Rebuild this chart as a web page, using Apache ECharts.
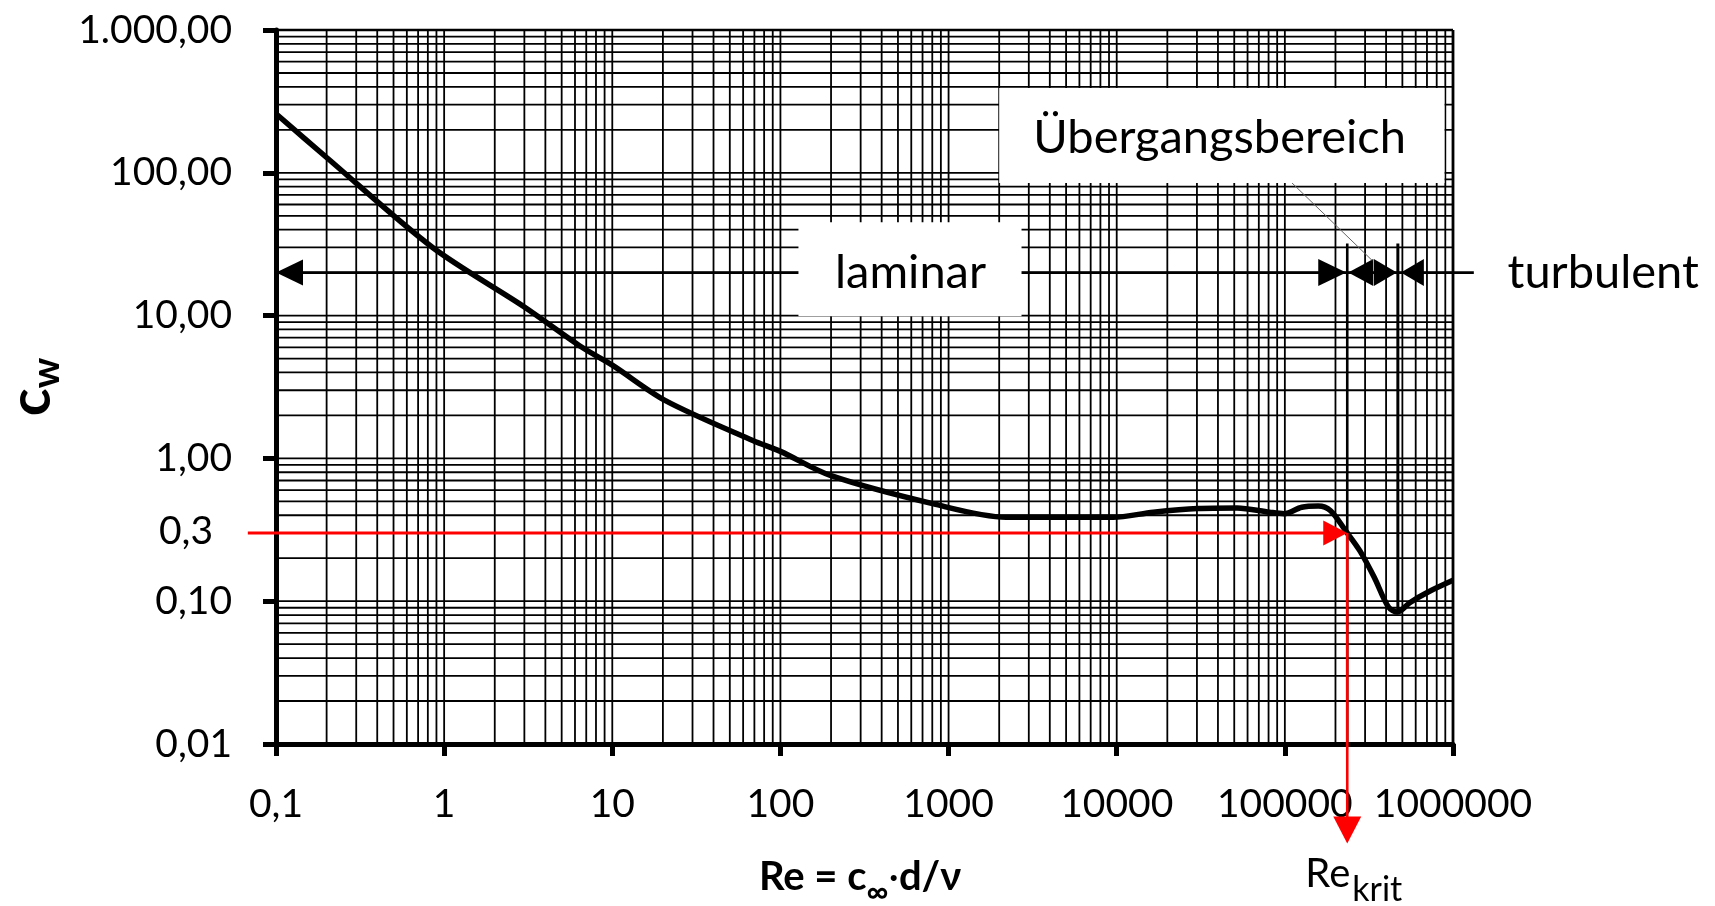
<!DOCTYPE html>
<html><head><meta charset="utf-8">
<script src="https://cdn.jsdelivr.net/npm/echarts@6/dist/echarts.min.js"></script>
<style>html,body{margin:0;padding:0;background:#fff}#c{width:1715px;height:906px}</style>
</head><body><div id="c"></div>
<script>
// ---- data ----
const reynolds  = [0.1, 0.2, 0.85, 3, 6.6, 10, 20.7, 69, 100, 198, 815, 2200, 9500, 16500, 30200, 52000, 81000, 99000, 126000, 158000, 187000, 229000, 279000, 340000, 413000, 468000, 556000, 712000, 1000000];
const dragCoeff = [259, 128, 30.1, 11.5, 6.0, 4.5, 2.54, 1.33, 1.12, 0.76, 0.48, 0.387, 0.387, 0.42, 0.446, 0.45, 0.42, 0.41, 0.455, 0.464, 0.43, 0.313, 0.226, 0.147, 0.091, 0.084, 0.098, 0.116, 0.14];

const xTickLabels = ['0,1', '1', '10', '100', '1000', '10000', '100000', '1000000'];
const yTickLabels = ['0,01', '0,10', '1,00', '10,00', '100,00', '1.000,00'];
const xDecades = [0.1, 1, 10, 100, 1000, 10000, 100000];
const yDecades = [0.01, 0.1, 1, 10, 100];
const gridMultipliers = [1, 2, 3, 4, 5, 6, 7, 8, 9];

const reKrit = 235000;      // Re_krit
const reTurb = 470000;      // start of turbulent region
const cwMarked = 0.3;       // red marker level
const cwMarkedLabel = '0,3';
const arrowRowCw = 20;      // level of the region arrows
const regionLabels = ['laminar', 'Übergangsbereich', 'turbulent'];

const X_MIN = 0.1, X_MAX = 1000000, Y_MIN = 0.01, Y_MAX = 1000;
const FONT = 'Lato';

const xGridValues = [];
xDecades.forEach(d => gridMultipliers.forEach(m => xGridValues.push(d * m)));
xGridValues.push(X_MAX);
const yGridValues = [];
yDecades.forEach(d => gridMultipliers.forEach(m => yGridValues.push(d * m)));
yGridValues.push(Y_MAX);

const chart = echarts.init(document.getElementById('c'), null, {renderer: 'canvas'});

function lineEl(a, b, w, color) {
  return {type: 'line', shape: {x1: a[0], y1: a[1], x2: b[0], y2: b[1]}, style: {stroke: color, lineWidth: w}};
}
function headEl(tip, dir, L, H, color) {
  const [x, y] = tip;
  let pts;
  if (dir === 'r') pts = [[x, y], [x - L, y - H], [x - L, y + H]];
  else if (dir === 'l') pts = [[x, y], [x + L, y - H], [x + L, y + H]];
  else pts = [[x, y], [x - H, y - L], [x + H, y - L]];
  return {type: 'polygon', shape: {points: pts}, style: {fill: color}};
}
function textEl(x, y, text, size, align, extra) {
  return {type: 'text', x: x, y: y, style: Object.assign({text: text, fontFamily: FONT, fontSize: size, fill: '#000', align: align, verticalAlign: 'middle'}, extra || {})};
}

const option = {
  animation: false,
  backgroundColor: '#fff',
  grid: {left: 276, right: 262, top: 30, bottom: 162, show: false, containLabel: false, outerBoundsMode: 'none'},
  xAxis: {
    type: 'log', logBase: 10, min: X_MIN, max: X_MAX,
    axisLine: {show: true, onZero: false, lineStyle: {color: '#000', width: 5}},
    axisTick: {show: true, inside: false, length: 12, lineStyle: {color: '#000', width: 5}},
    splitLine: {show: false},
    axisLabel: {
      margin: 41, color: '#000', fontFamily: FONT, fontSize: 39,
      formatter: v => xTickLabels[Math.round(Math.log10(v)) + 1]
    }
  },
  yAxis: {
    type: 'log', logBase: 10, min: Y_MIN, max: Y_MAX,
    axisLine: {show: true, onZero: false, lineStyle: {color: '#000', width: 5}},
    axisTick: {show: true, inside: false, length: 13, lineStyle: {color: '#000', width: 5}},
    splitLine: {show: false},
    axisLabel: {
      margin: 44, color: '#000', fontFamily: FONT, fontSize: 39,
      formatter: v => yTickLabels[Math.round(Math.log10(v)) + 2]
    }
  },
  graphic: [
    {type: 'text', x: 860, y: 878, z: 10, style: {
      text: '{m|Re = c}{s|∞}{d|·}{m|d/ν}', align: 'center', verticalAlign: 'middle',
      rich: {
        m: {fontFamily: FONT, fontWeight: 'bold', fontSize: 40, lineHeight: 42, verticalAlign: 'top', fill: '#000'},
        d: {fontFamily: FONT, fontWeight: 'normal', fontSize: 40, lineHeight: 42, verticalAlign: 'top', fill: '#000'},
        s: {fontFamily: FONT, fontWeight: 'bold', fontSize: 30, lineHeight: 30, padding: [20, 0, 0, 0], verticalAlign: 'top', fill: '#000'}
      }}},
    {type: 'text', x: 31, y: 387, rotation: Math.PI / 2, z: 10, style: {
      text: '{c|c}{w|w}', align: 'center', verticalAlign: 'middle',
      rich: {
        c: {fontFamily: FONT, fontWeight: 'bold', fontSize: 58, lineHeight: 58, verticalAlign: 'top', fill: '#000'},
        w: {fontFamily: FONT, fontWeight: 'bold', fontSize: 38, lineHeight: 38, padding: [26, 0, 0, 0], verticalAlign: 'top', fill: '#000'}
      }}}
  ],
  series: [
    { // vertical grid lines
      type: 'custom', coordinateSystem: 'cartesian2d', z: 1, silent: true,
      data: xGridValues.map(v => [v, Y_MIN]),
      renderItem: (p, api) => {
        const v = api.value(0);
        const a = api.coord([v, Y_MIN]), b = api.coord([v, Y_MAX]);
        return lineEl(a, b, v === X_MAX ? 2.8 : 1.8, '#000');
      }
    },
    { // horizontal grid lines
      type: 'custom', coordinateSystem: 'cartesian2d', z: 1, silent: true,
      data: yGridValues.map(v => [X_MIN, v]),
      renderItem: (p, api) => {
        const v = api.value(1);
        const a = api.coord([X_MIN, v]), b = api.coord([X_MAX, v]);
        return lineEl(a, b, v === Y_MAX ? 2.6 : 1.8, '#000');
      }
    },
    { // region arrows, boxes and labels
      type: 'custom', coordinateSystem: 'cartesian2d', z: 3, silent: true,
      data: [[1, 1]],
      renderItem: (p, api) => {
        const P = (x, y) => api.coord([x, y]);
        const ch = [];
        const rowL = P(X_MIN, arrowRowCw), rowK = P(reKrit, arrowRowCw), rowT = P(reTurb, arrowRowCw);
        const rowEnd = P(1330000, arrowRowCw);
        // boundary lines
        ch.push(lineEl(P(reKrit, 32), P(reKrit, Y_MIN), 2.6, '#000'));
        ch.push(lineEl(P(reTurb, 32), P(reTurb, 0.085), 3, '#000'));
        // arrow shafts
        ch.push(lineEl(rowL, rowEnd, 2.8, '#000'));
        // arrow heads
        ch.push(headEl(rowL, 'l', 27, 13, '#000'));
        ch.push(headEl([rowK[0] - 1, rowK[1]], 'r', 28, 13.5, '#000'));
        ch.push(headEl([rowK[0] + 1, rowK[1]], 'l', 25, 13.5, '#000'));
        ch.push(headEl([rowT[0] - 1, rowT[1]], 'r', 23, 13.5, '#000'));
        ch.push(headEl([rowT[0] + 3, rowT[1]], 'l', 23, 13.5, '#000'));
        // leader line
        ch.push(lineEl(P(109000, 86), P(331000, 24.3), 1, '#666'));
        // white label boxes
        const b1a = P(128, 45), b1b = P(2716, 9.9);
        ch.push({type: 'rect', shape: {x: b1a[0], y: b1a[1], width: b1b[0] - b1a[0], height: b1b[1] - b1a[1]}, style: {fill: '#fff'}});
        const b2a = P(2000, 393), b2b = P(890000, 85);
        ch.push({type: 'rect', shape: {x: b2a[0], y: b2a[1], width: b2b[0] - b2a[0], height: b2b[1] - b2a[1]}, style: {fill: '#fff'}});
        // labels
        const t1 = P(594, arrowRowCw);
        ch.push(textEl(t1[0], t1[1], regionLabels[0], 47, 'center'));
        const t2 = P(40900, 175);
        ch.push(textEl(t2[0], t2[1], regionLabels[1], 47, 'center'));
        const t3 = P(2110000, arrowRowCw);
        ch.push(textEl(t3[0], t3[1], regionLabels[2], 47, 'left'));
        return {type: 'group', children: ch};
      }
    },
    { // drag coefficient curve
      type: 'line', z: 4, silent: true,
      data: reynolds.map((r, i) => [r, dragCoeff[i]]),
      showSymbol: false, symbol: 'none', smooth: 0.3,
      lineStyle: {color: '#000', width: 5.5}
    },
    { // red marker: cw = 0.3 -> Re_krit
      type: 'custom', coordinateSystem: 'cartesian2d', z: 5, silent: true,
      data: [[reKrit, cwMarked]],
      renderItem: (p, api) => {
        const P = (x, y) => api.coord([x, y]);
        const red = '#ff0000';
        const ch = [];
        const start = P(0.068, cwMarked), hit = P(reKrit, cwMarked), bottom = P(reKrit, 0.00201);
        ch.push(lineEl(start, [hit[0] - 20, hit[1]], 3, red));
        ch.push(headEl(hit, 'r', 24, 12.5, red));
        ch.push(lineEl(hit, [bottom[0], bottom[1] - 22], 2.6, red));
        ch.push(headEl(bottom, 'd', 27, 14, red));
        const lab = P(X_MIN, cwMarked);
        ch.push(textEl(lab[0] - 63, lab[1] - 2, cwMarkedLabel, 39, 'right'));
        ch.push(textEl(bottom[0] + 3, bottom[1] + 31, 'Re', 40, 'right'));
        ch.push(textEl(bottom[0] + 5, bottom[1] + 47, 'krit', 34, 'left'));
        return {type: 'group', children: ch};
      }
    }
  ]
};
chart.setOption(option);
</script></body></html>
